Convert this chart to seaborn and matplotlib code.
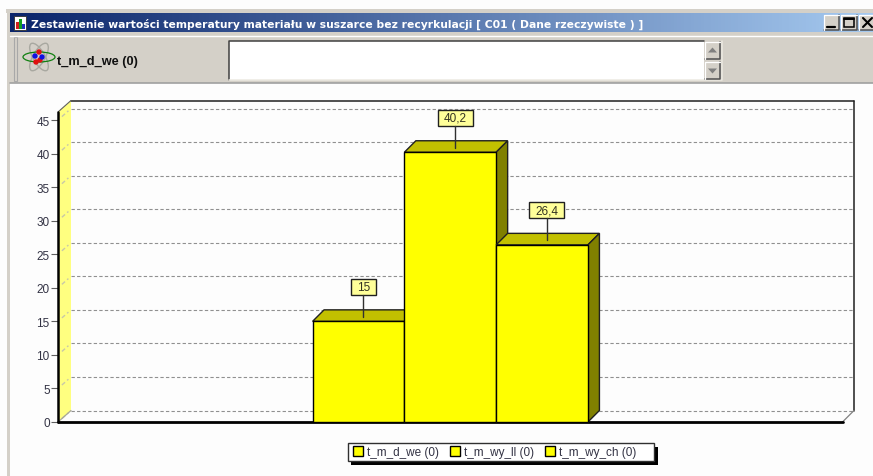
import numpy as np
import pandas as pd
import matplotlib
matplotlib.use('Agg')
import matplotlib.pyplot as plt
import seaborn as sns
from matplotlib.patches import Polygon, Rectangle, Ellipse, Circle, Patch
from matplotlib.lines import Line2D
from matplotlib.transforms import IdentityTransform

# Dane
serie = ['t_m_d_we (0)', 't_m_wy_ll (0)', 't_m_wy_ch (0)']
wartosci = [15, 40.2, 26.4]
etykiety = ['15', '40,2', '26,4']
podzialka = [0, 5, 10, 15, 20, 25, 30, 35, 40, 45]
tytul = 'Zestawienie wartości temperatury materiału w suszarce bez recyrkulacji [ C01 ( Dane rzeczywiste ) ]'

sns.set_style('white')
plt.rcParams['font.family'] = ['Liberation Sans', 'DejaVu Sans']

SZ, WY = 873, 477
GLEB = 11.5  # glebokosc efektu 3D w pikselach
ZOLTY, GORA, BOK = '#FFFF00', '#C2C000', '#808000'
SZARY = '#D4D0C8'

fig = plt.figure(figsize=(SZ / 100, WY / 100), dpi=100, facecolor='#FDFDFD')

# Okno programu (os w pikselach obrazka)
tlo = fig.add_axes([0, 0, 1, 1], zorder=0)
gradient = np.linspace(0, 1, 256).reshape(1, -1)
cmap = matplotlib.colors.LinearSegmentedColormap.from_list('belka', ['#0A246A', '#A6CAF0'])
tlo.imshow(gradient, extent=(10, SZ, 33, 14), cmap=cmap, aspect='auto')
tlo.set_xlim(0, SZ)
tlo.set_ylim(WY, 0)
tlo.axis('off')
tlo.add_patch(Rectangle((6, 10), SZ, 4, fc=SZARY, ec='none'))
tlo.add_patch(Rectangle((7, 10), 3, WY, fc=SZARY, ec='none'))
tlo.add_patch(Rectangle((10, 33), SZ, 51, fc=SZARY, ec='none'))
tlo.plot([10, SZ], [37, 37], color='white', lw=1)
tlo.plot([10, SZ], [84, 84], color='#A0A0A0', lw=1.2)
tlo.add_patch(Rectangle((14, 38), 3, 44, fc=SZARY, ec='#A8A8A8', lw=0.8))
tlo.text(31, 24, tytul, color='white', fontsize=7.75, fontweight='bold',
         family='DejaVu Sans', va='center', ha='left')


def przycisk(x0, y0, x1, y1):
    # wypukly przycisk w stylu Windows
    tlo.add_patch(Rectangle((x0, y0), x1 - x0, y1 - y0, fc=SZARY, ec='none'))
    tlo.plot([x0, x1, x1], [y1, y1, y0], color='#505050', lw=1.1)
    tlo.plot([x0, x0, x1], [y1, y0, y0], color='white', lw=0.9)


# Ikona tytulu
tlo.add_patch(Rectangle((14, 17), 12, 14, fc='white', ec='#303030', lw=0.6))
for x, h, kol in zip([16, 19, 22], [7, 10, 5], ['#D02020', '#10A020', '#2030C0']):
    tlo.add_patch(Rectangle((x, 30 - h), 3, h, fc=kol, ec='none'))

# Ikona atomu
tlo.add_patch(Ellipse((39, 58), 31, 12, angle=60, fc='none', ec='#A8A8A0', lw=1))
tlo.add_patch(Ellipse((39, 58), 31, 12, angle=-60, fc='none', ec='#A8A8A0', lw=1))
tlo.add_patch(Ellipse((39, 58), 32, 10, fc='none', ec='#108010', lw=0.9))
for x, y, kol in zip([39, 36, 40, 35, 42], [53, 63, 61, 57, 58], ['#E01010', '#E01010', '#E01010', '#1010E0', '#1010E0']):
    tlo.add_patch(Circle((x, y), 2.7, fc=kol, ec='none'))
tlo.text(57, 62.5, serie[0], fontsize=9.2, fontweight='bold', color='#101010', va='center')

# Pole tekstowe i przewijanie
tlo.add_patch(Rectangle((229, 42), 475, 39, fc='white', ec='none'))
tlo.plot([229, 229, 704], [81, 42, 42], color='#404040', lw=1.1)
tlo.plot([229, 722, 722], [81, 81, 42], color='#ECE9E2', lw=1.1)
for y0, y1, znak in [(43, 60, 1), (63, 80, -1)]:
    przycisk(705, y0, 720, y1)
    ys = (y0 + y1) / 2
    tlo.add_patch(Polygon([(708, ys + 2 * znak), (717, ys + 2 * znak), (712.5, ys - 3 * znak)],
                          fc='#808080', ec='none'))

# Przyciski okna
for x0, x1 in [(824, 839), (841, 857), (859, 875)]:
    przycisk(x0, 16, x1, 31)
tlo.plot([827, 835], [28, 28], color='black', lw=1.6)
tlo.add_patch(Rectangle((844, 19), 10, 9, fc='none', ec='black', lw=1.1))
tlo.plot([844, 854], [20, 20], color='black', lw=1.4)
tlo.plot([863, 872], [19, 28], color='black', lw=1.5)
tlo.plot([863, 872], [28, 19], color='black', lw=1.5)

# Ramka legendy z cieniem
tlo.add_patch(Rectangle((351, 448), 306.5, 18, fc='black', ec='none'))
tlo.add_patch(Rectangle((347.5, 444), 306.5, 17.7, fc='white', ec='#303030', lw=1))

# Wykres: os odpowiada przedniej plaszczyznie
ax = fig.add_axes([58 / SZ, (WY - 423) / WY, 784.5 / SZ, 310 / WY], zorder=1)
ax.patch.set_alpha(0)
df = pd.DataFrame({'grupa': ['C01'] * 3, 'seria': serie, 'wartosc': wartosci})
sns.barplot(data=df, x='grupa', y='wartosc', hue='seria', palette=[ZOLTY] * 3, width=0.351,
            saturation=1, edgecolor='black', linewidth=1, legend=False, ax=ax)
ax.set_xlim(-0.5, 0.5)
ax.set_ylim(0, 46.2)
ax.set_xlabel('')
ax.set_ylabel('')
ax.set_xticks([])
ax.set_yticks(podzialka)
ax.tick_params(axis='y', left=True, length=5, width=0.8, color='#606060', pad=1,
               labelsize=8.5, labelcolor='#333344')
sns.despine(ax=ax, left=True, bottom=True)

tr = IdentityTransform()
x0, x1 = ax.get_xlim()


def pkt(x, y, d=0, dx=None):
    # punkt danych -> piksele, z przesunieciem w glab
    p = ax.transData.transform((x, y))
    return (p[0] + (d if dx is None else dx), p[1] + d)


def wielokat(punkty, **kw):
    ax.add_patch(Polygon(punkty, transform=tr, clip_on=False, **kw))


def linia(a, b, **kw):
    ax.add_line(Line2D([a[0], b[0]], [a[1], b[1]], transform=tr, clip_on=False, **kw))


# Sciany (lewa sciana jest nieco szersza niz glebokosc slupkow)
ymax = ax.get_ylim()[1]
LEWA = 13
wielokat([pkt(x0, 0), pkt(x0, 0, GLEB, LEWA), pkt(x0, ymax, GLEB, LEWA), pkt(x0, ymax)],
         fc='#FFFF80', ec='none', zorder=0.5)
for y in podzialka:
    linia(pkt(x0, y, GLEB * 0.3, LEWA * 0.3), pkt(x0, y, GLEB * 0.8, LEWA * 0.8), color='#C8C8A8', lw=1, ls=(0, (3, 2)), zorder=0.6)
    linia(pkt(x0, y, GLEB, LEWA), pkt(x1, y, GLEB), color='#909090', lw=0.8, ls=(0, (3, 2)), zorder=0.6)
linia(pkt(x0, ymax, GLEB, LEWA), pkt(x1, ymax, GLEB), color='#202020', lw=1.1, zorder=0.7)
linia(pkt(x1, 0, GLEB), pkt(x1, ymax, GLEB), color='#202020', lw=1.1, zorder=0.7)
linia(pkt(x0, ymax), pkt(x0, ymax, GLEB, LEWA), color='#606060', lw=0.8, zorder=0.7)
linia(pkt(x0, 0), pkt(x0, ymax), color='black', lw=1.8, zorder=0.8)
linia(pkt(x1, 0), pkt(x1, 0, GLEB), color='#808080', lw=0.9, zorder=0.7)
linia(pkt(x0, 0), pkt(x0, 0, GLEB, LEWA), color='#A8A898', lw=0.9, zorder=0.7)
linia(pkt(x0, 0), pkt(x1, 0), color='black', lw=2, zorder=0.8)

# Slupki 3D: gora i bok dorysowane do prostokatow z seaborna
rys = fig.canvas.get_renderer()
for i, bar in enumerate(ax.patches[:3]):
    a, b = bar.get_x(), bar.get_x() + bar.get_width()
    v = bar.get_height()
    bar.set_zorder(4 + 2 * i)
    wielokat([pkt(a, v), pkt(a, v, GLEB), pkt(b, v, GLEB), pkt(b, v)], fc=GORA, ec='#202020', lw=1, zorder=3 + 2 * i)
    wielokat([pkt(b, 0), pkt(b, 0, GLEB), pkt(b, v, GLEB), pkt(b, v)], fc=BOK, ec='#202020', lw=1, zorder=3 + 2 * i)

    # Etykieta wartosci: ramka szersza niz sam tekst, z kreska do gornej sciany
    kon = pkt((a + b) / 2, v, GLEB / 2 - 1)
    srodek = (kon[0], kon[1] + 30)
    t = ax.text(srodek[0], srodek[1], etykiety[i], transform=tr, ha='center', va='center',
                fontsize=8.5, color='#333322', zorder=21, clip_on=False)
    szer = t.get_window_extent(rys).width + 12
    ax.add_patch(Rectangle((srodek[0] - szer / 2, srodek[1] - 8), szer, 16, transform=tr, clip_on=False,
                           fc='#FFFF99', ec='#202020', lw=1, zorder=20))
    linia(kon, (srodek[0], srodek[1] - 8), color='#303030', lw=1, zorder=20)

# Legenda
uchwyty = [Patch(fc=ZOLTY, ec='black', lw=1, label=s) for s in serie]
fig.legend(handles=uchwyty, ncol=3, loc='center left', bbox_to_anchor=(352.7 / SZ, (WY - 453) / WY),
           fontsize=8.5, frameon=False, labelcolor='#333344', handlelength=0.85, handleheight=0.85,
           handletextpad=0.35, columnspacing=0.93, borderpad=0, borderaxespad=0)

fig.savefig('out.png', dpi=100, facecolor=fig.get_facecolor())
